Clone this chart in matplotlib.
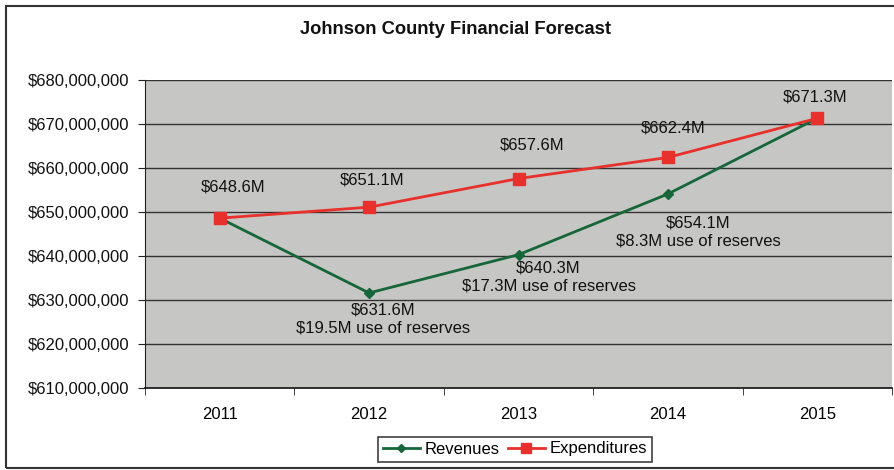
import numpy as np
import matplotlib
matplotlib.use("Agg")
import matplotlib.pyplot as plt
from matplotlib.patches import Rectangle
from matplotlib.ticker import FuncFormatter

plt.rcParams['font.family'] = ['Liberation Sans', 'DejaVu Sans']

# data (millions of dollars)
years = ['2011', '2012', '2013', '2014', '2015']
revenues = [648.6, 631.6, 640.3, 654.1, 671.3]
expenditures = [648.6, 651.1, 657.6, 662.4, 671.3]

# label offsets in pixels (dx, dy) relative to each point
exp_offsets = [(13, 31), (3, 27), (14, 34), (5, 29), (-2, 21)]
rev_offsets = [None, (14, -10), (30, -6), (30, -22), None]

green = '#17663a'
red = '#e8302c'

fig = plt.figure(figsize=(8.94, 4.70), dpi=100)
ax = fig.add_axes([145 / 894, 1 - 388 / 470, 747 / 894, 308 / 470])
ax.set_facecolor('#c6c7c5')

x = np.arange(len(years))
ax.plot(x, revenues, color=green, lw=2, marker='D', ms=5,
        mfc=green, mec=green, label='Revenues', zorder=3)
ax.plot(x, expenditures, color=red, lw=2, marker='s', ms=8,
        mfc=red, mec=red, label='Expenditures', zorder=4)

ax.set_xlim(-0.5, len(years) - 0.5)
ax.set_ylim(610, 680)
ax.set_yticks(np.arange(610, 681, 10))
ax.yaxis.set_major_formatter(FuncFormatter(lambda v, p: f"${v * 1e6:,.0f}"))
ax.grid(axis='y', color='#333333', lw=1)
ax.set_axisbelow(True)

ax.set_xticks(x)
ax.set_xticklabels(years)
ax.set_xticks(np.arange(-0.5, len(years)), minor=True)
ax.tick_params(axis='x', which='major', length=0, pad=14, labelsize=12)
ax.tick_params(axis='x', which='minor', length=5, direction='out', color='#222')
ax.tick_params(axis='y', length=5, direction='out', color='#222', labelsize=12,
               labelcolor='#111', pad=6)

for s in ['top', 'right']:
    ax.spines[s].set_visible(False)
ax.spines['left'].set_color('#222')
ax.spines['bottom'].set_color('#222')
ax.spines['bottom'].set_linewidth(1.3)

# expenditure labels
for i, v in enumerate(expenditures):
    dx, dy = exp_offsets[i]
    ax.annotate(f"${v:.1f}M", (i, v), xytext=(dx, dy), textcoords='offset pixels',
                ha='center', va='center', fontsize=12, color='#111')

# revenue labels with use of reserves
for i, v in enumerate(revenues):
    if rev_offsets[i] is None:
        continue
    dx, dy = rev_offsets[i]
    gap = expenditures[i] - v
    ax.annotate(f"${v:.1f}M\n${gap:.1f}M use of reserves", (i, v), xytext=(dx, dy),
                textcoords='offset pixels', ha='center', va='top', fontsize=12,
                color='#111', linespacing=1.25)

fig.text(455 / 894, 1 - 30 / 470, 'Johnson County Financial Forecast',
         ha='center', va='center', fontsize=13.2, fontweight='bold', color='#111')

leg = fig.legend(loc='center', bbox_to_anchor=(515 / 894, 1 - 449 / 470), ncol=2,
                 fontsize=12, frameon=True, fancybox=False, edgecolor='#111',
                 handlelength=2.2, columnspacing=0.5, handletextpad=0.3,
                 borderpad=0.3, markerscale=0.85)
leg.get_frame().set_linewidth(1.2)

# outer chart border
fig.patches.append(Rectangle((6 / 894, 2 / 470), 1.0, 1 - 8 / 470,
                             transform=fig.transFigure, fill=False,
                             edgecolor='#333', lw=1.5))

fig.savefig('out.png', dpi=100)
